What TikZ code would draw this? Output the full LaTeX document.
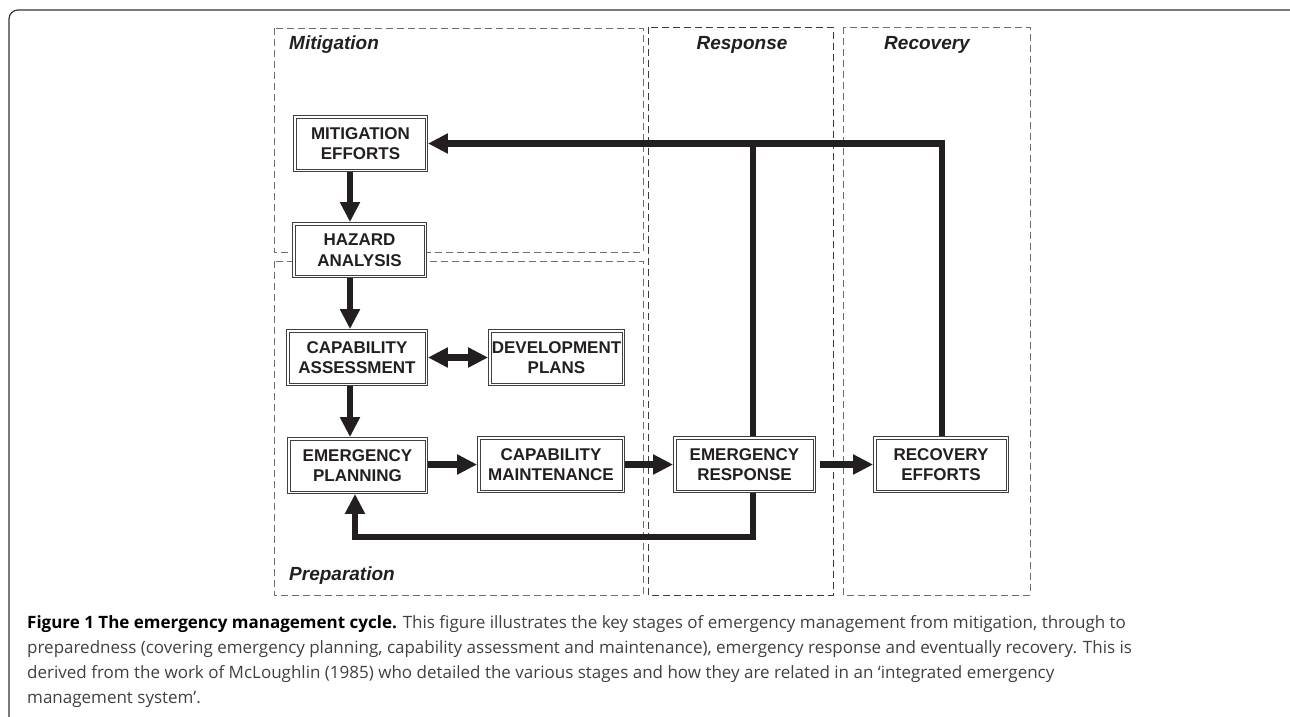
\documentclass[tikz,border=0pt]{standalone}
\usepackage{fontspec}
\setmainfont{Open Sans}
\newfontfamily\helv{Liberation Sans}
\usetikzlibrary{arrows.meta,calc}
\definecolor{ink}{HTML}{231F20}
\definecolor{dashgray}{HTML}{6E6E6E}
\definecolor{dashdark}{HTML}{3A3A3A}
\definecolor{captext}{HTML}{404040}
\begin{document}
\begin{tikzpicture}[x=1pt,y=-1pt,
  stagebox/.style={draw=black!75, line width=0.8pt, fill=white,
    font=\helv\bfseries\fontsize{17}{20.5}\selectfont, text=ink, align=center, inner sep=0pt},
  innerline/.style={draw=black!75, line width=0.8pt},
  region/.style={draw=#1, dashed, dash pattern=on 7pt off 4pt, line width=0.9pt},
  regionlabel/.style={font=\helv\bfseries\itshape\fontsize{19}{22}\selectfont, text=ink, inner sep=0pt},
  arr/.style={draw=ink, line width=6.8pt, -{Triangle[width=19pt,length=20pt]}},
  darr/.style={draw=ink, line width=6.8pt, {Triangle[width=19pt,length=20pt]}-{Triangle[width=19pt,length=20pt]}},
  thickline/.style={draw=ink, line width=6.8pt},
  capline/.style={anchor=base west, inner sep=0pt, font=\fontsize{17}{20}\selectfont, text=captext}
]
\useasboundingbox (0,0) rectangle (1290,716);
% outer frame
\draw[line width=1.2pt, draw=black!80, rounded corners=9pt] (9,10) rectangle (1299,740);

% regions
\draw[region=dashgray] (274,28) rectangle (643,252);
\draw[region=dashgray] (274,261) rectangle (643,595);
\draw[region=dashdark] (648,27) rectangle (833,595);
\draw[region=dashgray] (843,27) rectangle (1030,595);

\node[regionlabel, anchor=west] (lmit) at (289,45) {Mitigation};
\node[regionlabel, anchor=west] (lprep) at (289,576) {Preparation};
\node[regionlabel] (lresp) at (742,45) {Response};
\node[regionlabel] (lrec) at (927,45) {Recovery};

% stage boxes
\node[stagebox, minimum width=134pt, minimum height=56pt] (ME) at (360.5,143.5) {MITIGATION\\EFFORTS};
\node[stagebox, minimum width=134pt, minimum height=55pt] (HA) at (359.5,250) {HAZARD\\ANALYSIS};
\node[stagebox, minimum width=141pt, minimum height=56pt] (CA) at (357,357.5) {CAPABILITY\\ASSESSMENT};
\node[stagebox, minimum width=136pt, minimum height=56pt] (DP) at (556.5,357.5) {DEVELOPMENT\\PLANS};
\node[stagebox, minimum width=140pt, minimum height=56pt] (EP) at (357.5,465.5) {EMERGENCY\\PLANNING};
\node[stagebox, minimum width=147pt, minimum height=56pt] (CM) at (551,464.5) {CAPABILITY\\MAINTENANCE};
\node[stagebox, minimum width=142pt, minimum height=56pt] (ER) at (744.5,464.5) {EMERGENCY\\RESPONSE};
\node[stagebox, minimum width=135pt, minimum height=56pt] (RE) at (941,464.5) {RECOVERY\\EFFORTS};

% inner border of each double-framed box
\foreach \n in {ME,HA,CA,DP,EP,CM,ER,RE}
  \draw[innerline] ($(\n.north west)+(2.9,2.9)$) rectangle ($(\n.south east)+(-2.9,-2.9)$);

% helper coordinates
\coordinate (vx) at (350,0);
\coordinate (ex) at (753,0);
\coordinate (rx) at (942,0);
\coordinate (fbl) at (355,537);

% connectors
\draw[arr] (vx |- ME.south) -- (vx |- HA.north);
\draw[arr] (vx |- HA.south) -- (vx |- CA.north);
\draw[arr] (vx |- CA.south) -- (vx |- EP.north);
\draw[darr] (CA.east) -- (CA.east -| DP.west);
\draw[arr] (EP.east |- CM.west) -- (CM.west);
\draw[arr] (CM.east) -- (ER.west);
\draw[arr, shorten <=4pt] (ER.east) -- (RE.west);
\draw[thickline] (ex |- ER.north) -- (ex |- ME.east);
\draw[arr] (rx |- RE.north) |- (ME.east);
\draw[arr] (ex |- ER.south) |- (fbl) -- (fbl |- EP.south);

% caption
\node[capline] (c1) at (27,628) {\textcolor{black}{\bfseries Figure 1 The emergency management cycle.} This figure illustrates the key stages of emergency management from mitigation, through to};
\node[capline] (c2) at (27,653) {preparedness (covering emergency planning, capability assessment and maintenance), emergency response and eventually recovery. This is};
\node[capline] (c3) at (27,678) {derived from the work of McLoughlin (1985) who detailed the various stages and how they are related in an ‘integrated emergency};
\node[capline] (c4) at (27,703) {management system’.};
\end{tikzpicture}
\end{document}
